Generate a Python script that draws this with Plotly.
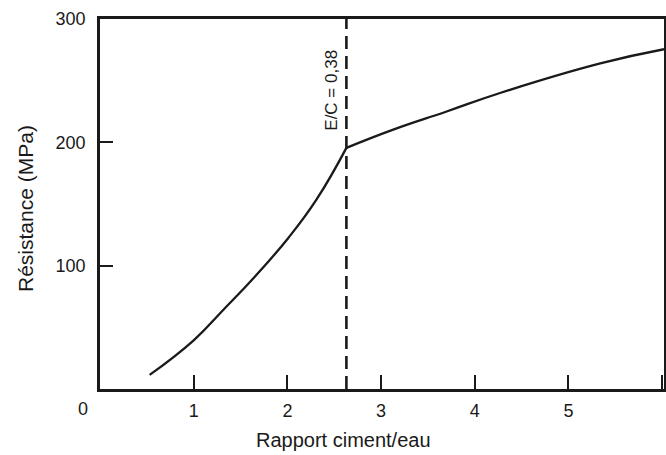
import plotly.graph_objects as go

# Data
x_low = [0.53, 1.0, 1.32, 1.64, 2.01, 2.31, 2.63]
y_low = [11.5, 39.5, 64.5, 90, 122.5, 153.5, 195.5]
x_high = [2.63, 3.13, 3.70, 4.27, 5.34, 6.02]
y_high = [195.5, 210.3, 225, 240, 264, 275.5]
ce_crit = 2.63
dash_y = [0, 300]
x_ticks = [1, 2, 3, 4, 5, 6]
y_ticks = [100, 200, 300]

INK = "#1a1a1a"
FONT = "Liberation Sans, Arial, sans-serif"

L, R, T, B = 100, 2, 19, 66
W, H = 666, 455
PW, PH = W - L - R, H - T - B


def px(xp):
    return (xp - L) / PW


def py(yp):
    return (H - B - yp) / PH


fig = go.Figure()
fig.add_trace(go.Scatter(x=[ce_crit, ce_crit], y=dash_y, mode="lines",
                         line=dict(color=INK, width=2.6, dash="13px,7px"),
                         hoverinfo="skip"))
fig.add_trace(go.Scatter(x=x_low, y=y_low, mode="lines",
                         line=dict(color=INK, width=2.3, shape="spline", smoothing=1.3)))
fig.add_trace(go.Scatter(x=x_high, y=y_high, mode="lines",
                         line=dict(color=INK, width=2.3, shape="spline", smoothing=1.3)))

fig.update_layout(
    width=W, height=H,
    margin=dict(l=L, r=R, t=T, b=B, autoexpand=False),
    paper_bgcolor="white", plot_bgcolor="white",
    showlegend=False,
    font=dict(family=FONT, color=INK, size=18),
    xaxis=dict(range=[0, 6.02], tickvals=x_ticks, ticktext=[str(v) for v in x_ticks],
               ticks="inside", ticklen=14, tickwidth=2, tickcolor=INK,
               showline=True, linewidth=2.6, linecolor=INK, mirror=True,
               showgrid=False, zeroline=False, ticklabelstandoff=4,
               automargin=False, tickfont=dict(size=18)),
    yaxis=dict(range=[0, 300], tickvals=y_ticks, ticktext=[str(v) for v in y_ticks],
               ticks="inside", ticklen=13, tickwidth=2, tickcolor=INK,
               showline=True, linewidth=2.6, linecolor=INK, mirror=True,
               showgrid=False, zeroline=False, ticklabelstandoff=8,
               automargin=False, tickfont=dict(size=18)),
)

common = dict(xref="paper", yref="paper", showarrow=False,
              xanchor="center", yanchor="middle")
fig.add_annotation(text="0", x=px(82.5), y=py(409), font=dict(size=18), **common)
fig.add_annotation(text="Rapport ciment/eau", x=px(343.5), y=py(440),
                   font=dict(size=20), **common)
fig.add_annotation(text="Résistance (MPa)", x=px(25), y=py(209), textangle=-90,
                   font=dict(size=21), **common)
fig.add_annotation(text="E/C = 0,38", x=px(330.7), y=py(90), textangle=-90,
                   font=dict(size=17), **common)

fig.write_html("out.html", config={"displayModeBar": False},
               post_script="document.body.style.margin='0';document.body.style.overflow='hidden';")
